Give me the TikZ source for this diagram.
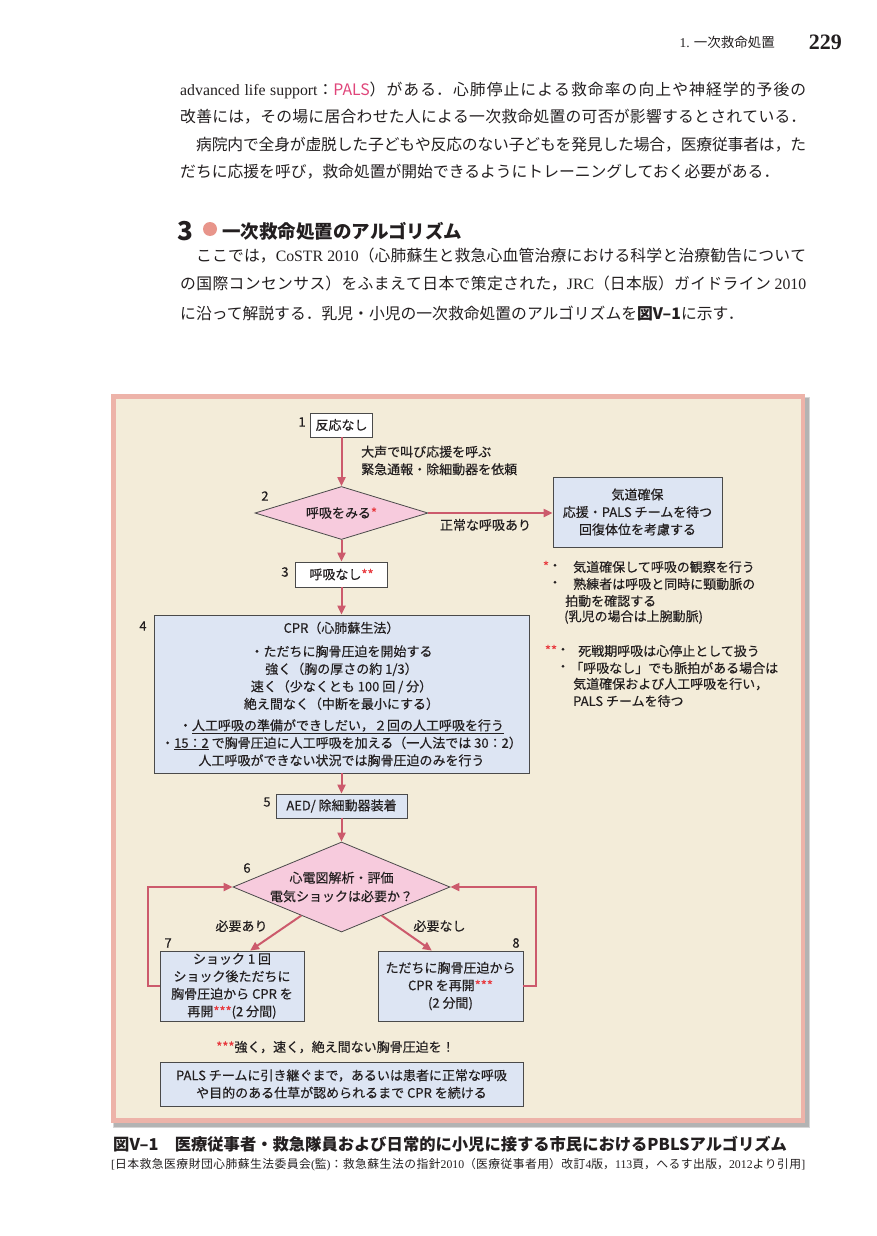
\documentclass[tikz,border=0pt]{standalone}
\usepackage{fontspec}
\setmainfont{Noto Sans CJK JP}
\newfontfamily\lser{Liberation Serif}
\newfontfamily\dgf{Noto Sans CJK JP}[FakeBold=0.35]
\usetikzlibrary{shapes.geometric,arrows.meta,calc}
\XeTeXlinebreaklocale "ja"
\XeTeXlinebreakskip=0pt plus 3pt minus 1pt
\hbadness=10000
\definecolor{framebd}{HTML}{EDB3A9}
\definecolor{framebg}{HTML}{F3ECD9}
\definecolor{arrowc}{HTML}{CC5A6C}
\definecolor{dfill}{HTML}{F7CBDD}
\definecolor{bfill}{HTML}{DDE5F3}
\definecolor{astr}{HTML}{E8383D}
\definecolor{palsc}{HTML}{E0457A}
\definecolor{headc}{HTML}{E8958B}
\definecolor{ink}{HTML}{231F20}
\definecolor{bdc}{HTML}{4A4A4A}
\newcommand{\rast}[1]{\textcolor{astr}{#1}}
\newcommand{\bodyf}{\fontsize{15.8}{18}\selectfont}
\newcommand{\dfont}{\dgf\fontsize{13}{17.5}\selectfont}
\newcommand{\jpar}[1]{\tolerance=9999\parfillskip=0pt\relax #1\par}
\tikzset{
  box/.style={draw=bdc, line width=0.8pt, fill=bfill, inner sep=0pt, font=\dfont, text=ink, align=center},
  wbox/.style={box, fill=white},
  dia/.style={diamond, draw=bdc, line width=0.8pt, fill=dfill, inner sep=0pt, font=\dfont, text=ink, align=center},
  arr/.style={draw=arrowc, line width=2pt, -{Triangle[length=9pt,width=8pt]}},
  num/.style={font=\dfont, inner sep=0pt, text=ink},
  lbl/.style={font=\dfont, inner sep=0pt, text=ink},
  bodyl/.style={anchor=west, inner sep=0pt, font=\bodyf, text=ink},
  jl/.style={bodyl, align=justify},
}
\begin{document}
\begin{tikzpicture}[x=1pt,y=-1pt]
\useasboundingbox (0,0) rectangle (876,1236);
\fill[white] (0,0) rectangle (876,1236);

% header
\node[anchor=east, inner sep=0pt, font=\fontsize{13.5}{14}\selectfont, text=ink] (hdr) at (775,42) {{\lser 1.} 一次救命処置};
\node[anchor=east, inner sep=0pt, font=\lser\fontsize{22}{22}\selectfont\bfseries, text=ink] (pg) at (842,42) {229};

% body paragraph 1
\node[jl, text width=626pt] (b1) at (180,90) {\jpar{{\lser advanced life support}：{\color{palsc}PALS}）がある．心肺停止による救命率の向上や神経学的予後の}};
\node[jl, text width=626pt] (b2) at (180,117) {\jpar{改善には，その場に居合わせた人による一次救命処置の可否が影響するとされている．}};
\node[jl, text width=610pt] (b3) at (196,145) {\jpar{病院内で全身が虚脱した子どもや反応のない子どもを発見した場合，医療従事者は，た}};
\node[bodyl] (b4) at (180,172) {だちに応援を呼び，救命処置が開始できるようにトレーニングしておく必要がある．};

% section heading
\node[anchor=west, inner sep=0pt, font=\fontsize{26}{26}\selectfont\bfseries, text=ink] (h3) at (177,231) {3};
\node[circle, fill=headc, minimum size=14pt, inner sep=0pt] (hdot) at (210,229) {};
\node[anchor=west, inner sep=0pt, font=\fontsize{18.5}{20}\selectfont\bfseries, text=ink] (htitle) at (222,231) {一次救命処置のアルゴリズム};

% body paragraph 2
\node[jl, text width=610pt] (p1) at (196,256) {\jpar{ここでは，{\lser CoSTR 2010}（心肺蘇生と救急心血管治療における科学と治療勧告について}};
\node[jl, text width=626pt] (p2) at (180,284) {\jpar{の国際コンセンサス）をふまえて日本で策定された，{\lser JRC}（日本版）ガイドライン {\lser 2010}}};
\node[bodyl] (p3) at (180,313) {に沿って解説する．乳児・小児の一次救命処置のアルゴリズムを{\bfseries 図V–1}に示す．};

% frame
\fill[black, opacity=0.16] (113,397) rectangle (809.5,1127.5);
\fill[black, opacity=0.16] (114,398) rectangle (808.5,1126.5);
\fill[framebd] (111,394) rectangle (805,1123);
\fill[framebg] (116,399) rectangle (800.5,1118);

% flowchart nodes
\node[wbox, minimum width=62pt, minimum height=24pt] (n1) at (341.5,425) {反応なし};
\node[dia, aspect=3.26, minimum width=173pt, minimum height=53pt] (n2) at (341.5,513) {呼吸をみる\rast{*}};
\node[box, minimum width=169pt, minimum height=70pt] (n2r) at (637.5,512) {気道確保\\応援・PALS チームを待つ\\回復体位を考慮する};
\node[wbox, minimum width=92pt, minimum height=25pt] (n3) at (341.5,574.5) {呼吸なし\rast{**}};
\node[box, minimum width=375pt, minimum height=158pt] (n4) at (341.5,694) {CPR（心肺蘇生法）\\[6pt]
 ・ただちに胸骨圧迫を開始する\\
 強く（胸の厚さの約 1/3）\\
 速く（少なくとも 100 回 / 分）\\
 絶え間なく（中断を最小にする）\\[4pt]
 ・\underline{人工呼吸の準備ができしだい，２回の人工呼吸を行う}\\
 ・\underline{15：2} で胸骨圧迫に人工呼吸を加える（一人法では 30：2）\\
 人工呼吸ができない状況では胸骨圧迫のみを行う};
\node[box, minimum width=131pt, minimum height=24pt] (n5) at (341.5,806) {AED/ 除細動器装着};
\node[dia, aspect=2.41, minimum width=217pt, minimum height=90pt] (n6) at (341.5,887) {心電図解析・評価\\[1pt]電気ショックは必要か？};
\node[box, minimum width=144pt, minimum height=70pt] (n7) at (232,986) {ショック 1 回\\ショック後ただちに\\胸骨圧迫から CPR を\\再開\rast{***}(2 分間)};
\node[box, minimum width=145pt, minimum height=70pt] (n8) at (450.5,986) {ただちに胸骨圧迫から\\CPR を再開\rast{***}\\(2 分間)};
\node[box, minimum width=363pt, minimum height=44pt] (n9) at (341.5,1084) {PALS チームに引き継ぐまで，あるいは患者に正常な呼吸\\や目的のある仕草が認められるまで CPR を続ける};

% step numbers
\node[num] (k1) at (302,422) {1};
\node[num] (k2) at (265,496) {2};
\node[num] (k3) at (285,572) {3};
\node[num] (k4) at (143,626) {4};
\node[num] (k5) at (267,802) {5};
\node[num] (k6) at (247,868) {6};
\node[num] (k7) at (168,943) {7};
\node[num] (k8) at (516,943) {8};

% connectors
\draw[arr] (n1) -- (n2);
\draw[arr] (n2.east) -- (n2r.west |- n2.east);
\draw[arr] (n2) -- (n3);
\draw[arr] (n3) -- (n4);
\draw[arr] (n4) -- (n5);
\draw[arr] (n5) -- (n6);
\draw[arr] ($(n6.west)!0.63!(n6.south)$) -- ($(n7.north west)!0.625!(n7.north east)$);
\draw[arr] ($(n6.east)!0.63!(n6.south)$) -- ($(n8.north west)!0.372!(n8.north east)$);
\draw[arr] (n7.west) -- ++(-12,0) |- (n6.west);
\draw[arr] (n8.east) -- ++(13,0) |- (n6.east);

% connector labels
\node[lbl, anchor=west, align=left] (t12) at (361,460.5) {大声で叫び応援を呼ぶ\\緊急通報・除細動器を依頼};
\node[lbl] (t2r) at (485.5,525) {正常な呼吸あり};
\node[lbl] (t67) at (241.5,926) {必要あり};
\node[lbl] (t68) at (439.5,926) {必要なし};
\node[lbl] (tstar) at (335.5,1047) {\rast{***}強く，速く，絶え間ない胸骨圧迫を！};

% notes on the right
\node[lbl, text=astr] (s1) at (546,566) {*};
\node[lbl] (d1) at (555,567) {・};
\node[lbl, anchor=west] (r1) at (573,567) {気道確保して呼吸の観察を行う};
\node[lbl] (d2) at (555,584) {・};
\node[lbl, anchor=west] (r2) at (573,584) {熟練者は呼吸と同時に頸動脈の};
\node[lbl, anchor=west] (r3) at (565,601) {拍動を確認する};
\node[lbl, anchor=west] (r4) at (564,617) {(乳児の場合は上腕動脈)};
\node[lbl, text=astr] (s2) at (551,650) {**};
\node[lbl] (d5) at (563,651) {・};
\node[lbl, anchor=west] (r5) at (578,651) {死戦期呼吸は心停止として扱う};
\node[lbl] (d6) at (563,668) {・};
\node[lbl, anchor=west] (r6) at (570,668) {「呼吸なし」でも脈拍がある場合は};
\node[lbl, anchor=west] (r7) at (573,684) {気道確保および人工呼吸を行い，};
\node[lbl, anchor=west] (r8) at (573,701) {PALS チームを待つ};

% caption
\node[anchor=west, inner sep=0pt, font=\fontsize{16.3}{17}\selectfont\bfseries, text=ink] (cap1) at (113,1144) {図V–1　医療従事者・救急隊員および日常的に小児に接する市民におけるPBLSアルゴリズム};
\node[jl, text width=694pt, font=\fontsize{11.8}{14}\selectfont] (cap2) at (111,1165) {\jpar{{\lser [}日本救急医療財団心肺蘇生法委員会{\lser (}監{\lser )}：救急蘇生法の指針{\lser 2010}（医療従事者用）改訂{\lser 4}版，{\lser 113}頁，へるす出版，{\lser 2012}より引用{\lser ]}}};
\end{tikzpicture}
\end{document}
